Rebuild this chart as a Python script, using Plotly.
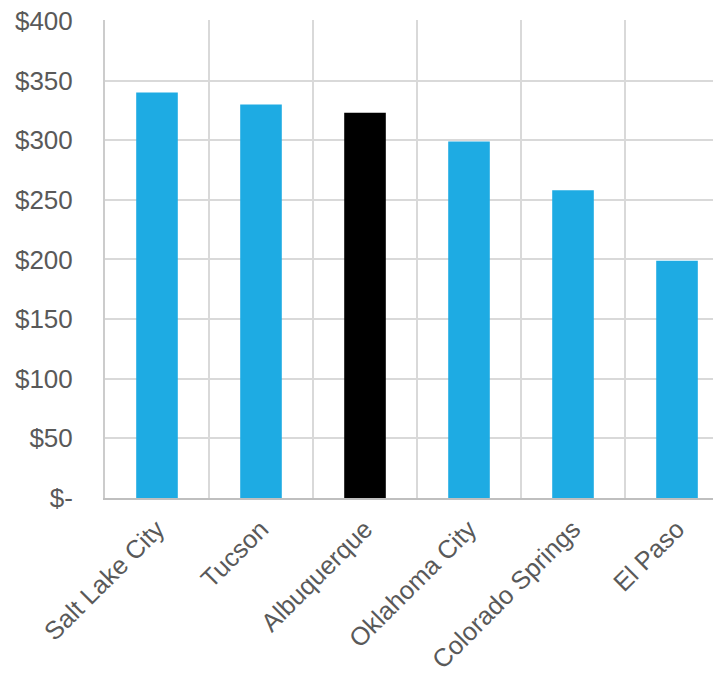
import plotly.graph_objects as go

cities = ["Salt Lake City", "Tucson", "Albuquerque", "Oklahoma City", "Colorado Springs", "El Paso"]
values = [340, 330, 323, 299, 258, 199]
bar_colors = ["#1EABE3", "#1EABE3", "#000000", "#1EABE3", "#1EABE3", "#1EABE3"]
y_tickvals = [0, 50, 100, 150, 200, 250, 300, 350, 400]
y_ticktext = ["$-", "$50", "$100", "$150", "$200", "$250", "$300", "$350", "$400"]

fig = go.Figure(go.Bar(x=cities, y=values, marker=dict(color=bar_colors, line=dict(width=0)), width=0.4))

fig.update_layout(
    width=713, height=676,
    margin=dict(l=105, r=0, t=20, b=178),
    paper_bgcolor="white", plot_bgcolor="white",
    font=dict(family="Arial, Liberation Sans, sans-serif", size=26, color="#595959"),
    showlegend=False,
    bargap=0.6,
)
fig.update_xaxes(
    range=[-0.5, 5.346], tickangle=-45, tickson="boundaries",
    showgrid=True, gridcolor="#D9D9D9", gridwidth=2,
    showline=True, linecolor="#BFBFBF", linewidth=2,
    ticks="", tickfont=dict(size=25.5, color="#595959"), automargin=False,
    ticklabeloverflow="allow", ticklabelstandoff=4,
)
fig.update_yaxes(
    range=[0, 400.8], tickvals=y_tickvals, ticktext=y_ticktext,
    showgrid=True, gridcolor="#D9D9D9", gridwidth=2,
    showline=True, linecolor="#CCCCCC", linewidth=2,
    zeroline=False, ticks="", ticklabelstandoff=25,
    tickfont=dict(size=26, color="#595959"), automargin=False,
    ticklabeloverflow="allow",
)

fig.write_html(
    "out.html",
    config={"displayModeBar": False},
    post_script="document.body.style.margin='0';document.body.style.overflow='hidden';",
)
